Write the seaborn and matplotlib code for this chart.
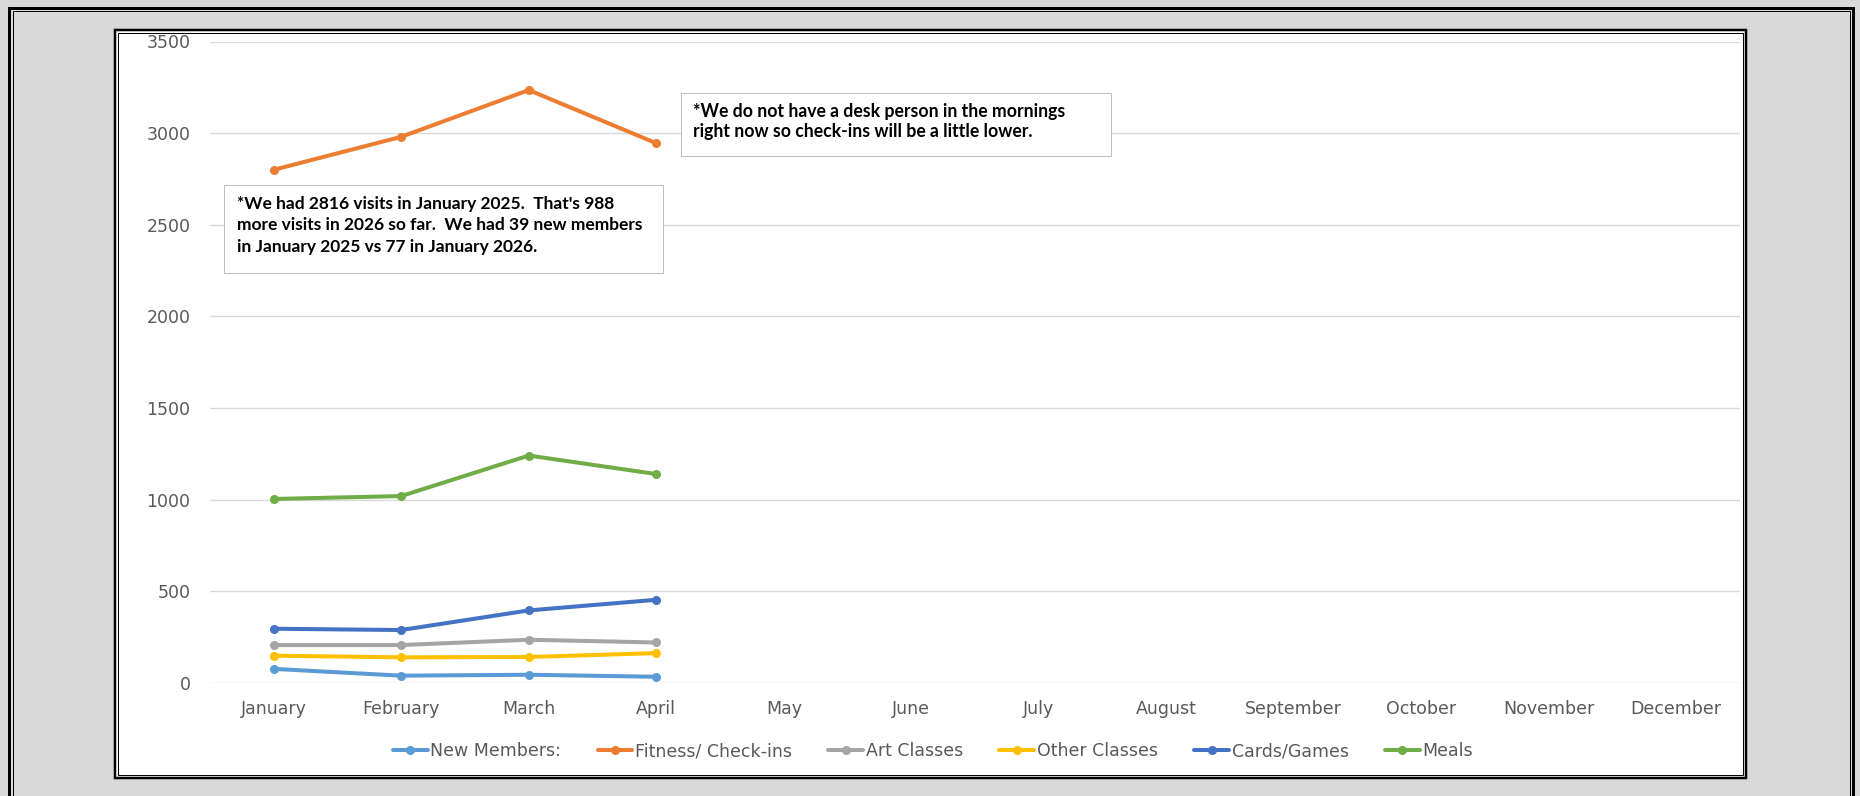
import matplotlib
matplotlib.use("Agg")
import matplotlib.pyplot as plt
import matplotlib.patches as mpatches
from matplotlib.lines import Line2D
import seaborn as sns
import pandas as pd

# ---- data ----
months = ["January", "February", "March", "April", "May", "June", "July",
          "August", "September", "October", "November", "December"]
series_names = ["New Members:", "Fitness/ Check-ins", "Art Classes",
                "Other Classes", "Cards/Games", "Meals"]
new_members = [77, 40, 45, 34]
fitness = [2800, 2980, 3235, 2945]
art_classes = [207, 207, 236, 221]
other_classes = [149, 140, 142, 163]
cards_games = [296, 289, 396, 454]
meals = [1004, 1020, 1241, 1140]
yticks = [0, 500, 1000, 1500, 2000, 2500, 3000, 3500]
note1 = ["*We had 2816 visits in January 2025.  That's 988",
         "more visits in 2026 so far.  We had 39 new members",
         "in January 2025 vs 77 in January 2026."]
note2 = ["*We do not have a desk person in the mornings",
         "right now so check-ins will be a little lower."]

colors = ["#5B9BD5", "#ED7D31", "#A5A5A5", "#FFC000", "#4472C4", "#70AD47"]
all_values = [new_members, fitness, art_classes, other_classes, cards_games, meals]

rows = []
for name, vals in zip(series_names, all_values):
    for i, v in enumerate(vals):
        rows.append({"series": name, "idx": i, "value": v})
df = pd.DataFrame(rows)

sns.set_theme(style="white")
plt.rcParams["font.family"] = ["DejaVu Sans"]

W, H = 1860, 796
fig = plt.figure(figsize=(W / 100, H / 100), dpi=100)
fig.patch.set_facecolor("#D9D9D9")

def fx(x):
    return x / W

def fy(y):
    return 1 - y / H

PT = 72 / 100  # points per pixel

def rect_px(x0, y0, x1, y1, lw_px, fc="none", ec="black", z=3):
    r = mpatches.Rectangle((fx(x0), fy(y1)), fx(x1) - fx(x0), fy(y0) - fy(y1),
                           transform=fig.transFigure, facecolor=fc, edgecolor=ec,
                           linewidth=lw_px * PT, zorder=z)
    fig.add_artist(r)
    return r

# outer double frame
rect_px(9, 8, 1853, 820, 3)
rect_px(12.5, 11.5, 1849.5, 820, 1)
# inner chart area (white, double frame)
rect_px(115, 29.5, 1746, 778, 0, fc="white", ec="none", z=-2)
rect_px(115, 29.5, 1746, 778, 2.5)
rect_px(118, 32.5, 1743, 775, 1)

# axes
ax = fig.add_axes([fx(210), fy(683), fx(1740) - fx(210), fy(41.5) - fy(683)])
ax.set_facecolor("none")

sns.lineplot(data=df, x="idx", y="value", hue="series", hue_order=series_names,
             palette=colors, marker="o", markersize=6.5, markeredgewidth=0,
             linewidth=2.9, ax=ax, legend=False, sort=False)

ax.set_xlim(-0.5, 11.5)
ax.set_ylim(0, 3500)
ax.set_xticks(range(len(months)))
ax.set_xticklabels(months)
ax.set_yticks(yticks)
ax.set_yticklabels([str(t) for t in yticks])
ax.set_xlabel("")
ax.set_ylabel("")
ax.yaxis.grid(True, color="#D9D9D9", linewidth=1.0)
ax.xaxis.grid(False)
for s in ax.spines.values():
    s.set_visible(False)
ax.tick_params(axis="both", length=0, colors="#595959", labelsize=12.5)
ax.tick_params(axis="y", pad=14)
ax.tick_params(axis="x", pad=12.5)
ax.set_axisbelow(True)

handles = [Line2D([], [], color=c, lw=2.9, marker="o", markersize=6.5,
                  markeredgewidth=0) for c in colors]
ax.legend(handles, series_names, loc="center",
          bbox_to_anchor=(fx(933), fy(751)), bbox_transform=fig.transFigure,
          ncol=6, frameon=False, handlelength=2.0, handletextpad=0.15,
          columnspacing=2.1, fontsize=12.5, labelcolor="#595959")

# annotation boxes
rect_px(224, 185, 663, 273, 1, fc="white", ec="#BFBFBF", z=5)
rect_px(681, 93, 1111, 156, 1, fc="white", ec="#BFBFBF", z=5)

fam = ["Lato", "DejaVu Sans"]
texts1 = []
for i, line in enumerate(note1):
    t = fig.text(fx(237), fy(209 + i * 21.5), line, fontsize=11, fontweight="bold",
                 family=fam, color="black", ha="left", va="baseline", zorder=6)
    texts1.append(t)
texts2 = []
for i, line in enumerate(note2):
    t = fig.text(fx(693), fy(117 + i * 20.5), line, fontsize=11, fontweight="bold",
                 family=fam, color="black", ha="left", va="baseline", zorder=6)
    texts2.append(t)

# fit each note's font size to the measured width of a reference line
renderer = fig.canvas.get_renderer()
w1 = texts1[1].get_window_extent(renderer).width
w2 = texts2[0].get_window_extent(renderer).width
for t in texts1:
    t.set_fontsize(11 * 405 / w1)
for t in texts2:
    t.set_fontsize(11 * 370 / w2)

fig.savefig("out.png", dpi=100, facecolor=fig.get_facecolor())
